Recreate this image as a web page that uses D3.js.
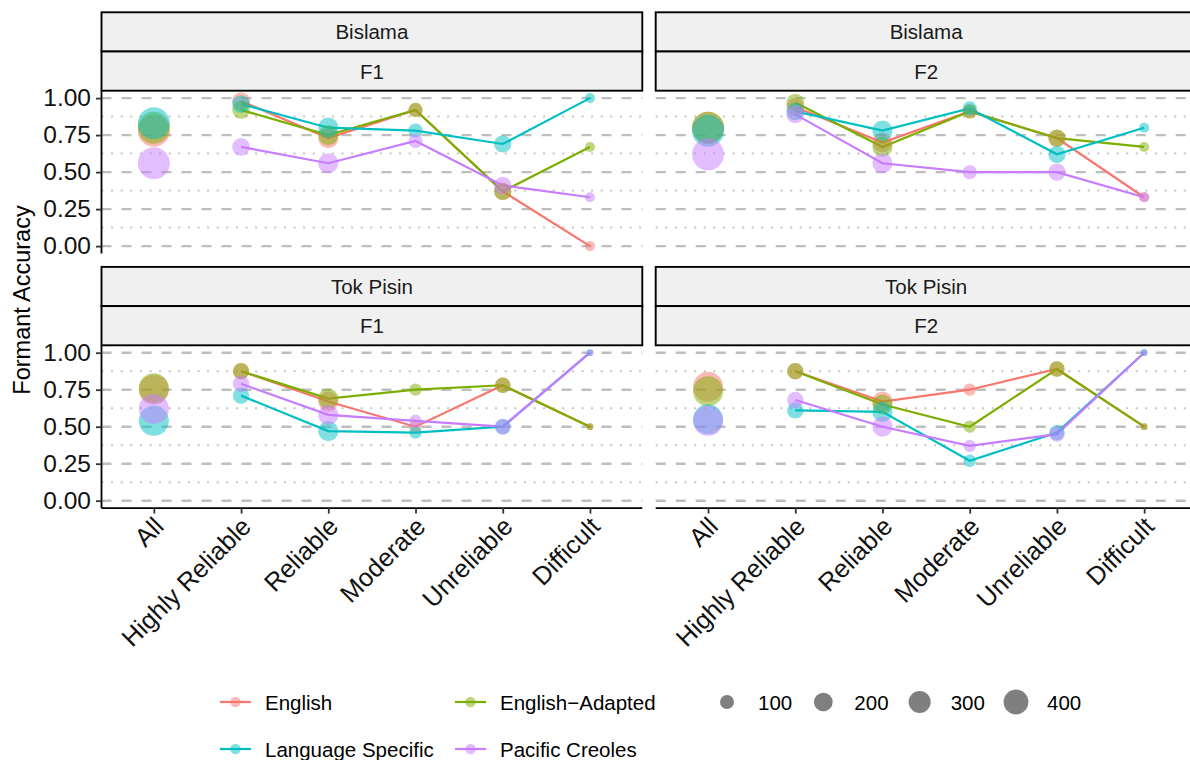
<!DOCTYPE html>
<html>
<head>
<meta charset="utf-8">
<script src="https://cdn.jsdelivr.net/npm/d3@7"></script>
<style>
  html, body { margin: 0; padding: 0; background: #ffffff; }
  svg { display: block; font-family: "Liberation Sans", Arial, sans-serif; }
</style>
</head>
<body>
<svg id="chart" width="1190" height="760"></svg>
<script>
// Categories of formant reliability, and the four reference methods
const categories = ["All", "Highly Reliable", "Reliable", "Moderate", "Unreliable", "Difficult"];
const methods = ["English", "English\u2212Adapted", "Language Specific", "Pacific Creoles"];
const methodColors = ["#F8766D", "#7CAE00", "#00BFC4", "#C77CFF"];
const languages = ["Bislama", "Tok Pisin"];
const formants = ["F1", "F2"];
const yTicks = [0, 0.25, 0.5, 0.75, 1];
const yMinorTicks = [0.125, 0.375, 0.625, 0.875];
const sizeBreaks = [100, 200, 300, 400];

// Number of tokens in each category (same tokens for F1 and F2)
const tokensBislama = [740, 175, 240, 105, 165, 55];
const tokensTokPisin = [633, 145, 240, 79, 126, 43];

// Formant accuracy per category, one array per panel and method
const bislamaF1English  = [0.78, 0.98, 0.73, 0.92, 0.37, 0.00];
const bislamaF1Adapted  = [0.80, 0.92, 0.75, 0.92, 0.37, 0.67];
const bislamaF1Specific = [0.83, 0.96, 0.80, 0.78, 0.69, 1.00];
const bislamaF1Creoles  = [0.56, 0.67, 0.56, 0.71, 0.41, 0.33];

const bislamaF2English  = [0.80, 0.94, 0.70, 0.91, 0.73, 0.33];
const bislamaF2Adapted  = [0.80, 0.97, 0.67, 0.91, 0.73, 0.67];
const bislamaF2Specific = [0.78, 0.91, 0.78, 0.93, 0.62, 0.80];
const bislamaF2Creoles  = [0.62, 0.89, 0.56, 0.50, 0.50, 0.33];

const tokPisinF1English  = [0.75, 0.875, 0.67, 0.50, 0.78, 0.50];
const tokPisinF1Adapted  = [0.76, 0.875, 0.69, 0.75, 0.78, 0.50];
const tokPisinF1Specific = [0.54, 0.71, 0.47, 0.46, 0.50, 1.00];
const tokPisinF1Creoles  = [0.62, 0.79, 0.58, 0.54, 0.50, 1.00];

const tokPisinF2English  = [0.77, 0.875, 0.67, 0.75, 0.89, 0.50];
const tokPisinF2Adapted  = [0.74, 0.875, 0.65, 0.50, 0.89, 0.50];
const tokPisinF2Specific = [0.55, 0.61, 0.60, 0.27, 0.46, 1.00];
const tokPisinF2Creoles  = [0.54, 0.68, 0.50, 0.37, 0.45, 1.00];

const panels = [
  { language: languages[0], formant: formants[0], row: 0, col: 0, tokens: tokensBislama,
    series: [bislamaF1English, bislamaF1Adapted, bislamaF1Specific, bislamaF1Creoles] },
  { language: languages[0], formant: formants[1], row: 0, col: 1, tokens: tokensBislama,
    series: [bislamaF2English, bislamaF2Adapted, bislamaF2Specific, bislamaF2Creoles] },
  { language: languages[1], formant: formants[0], row: 1, col: 0, tokens: tokensTokPisin,
    series: [tokPisinF1English, tokPisinF1Adapted, tokPisinF1Specific, tokPisinF1Creoles] },
  { language: languages[1], formant: formants[1], row: 1, col: 1, tokens: tokensTokPisin,
    series: [tokPisinF2English, tokPisinF2Adapted, tokPisinF2Specific, tokPisinF2Creoles] }
];

// Layout
const marginLeft = 101.5, marginTop = 12.3;
const panelW = 540.8, panelH = 162.8, gap = 13.4, stripH = 39.2;
const font = "'Liberation Sans', Arial, sans-serif";

const svg = d3.select("#chart");

// Point size: area-style mapping from token count to diameter
const allTokens = tokensBislama.concat(tokensTokPisin);
const [nMin, nMax] = d3.extent(allTokens);
const dMin = 6.7, dMax = 32;
const sizeT = d3.scaleLinear().domain([nMin, nMax]).range([0, 1]).clamp(true);
const radius = n => (dMin + (dMax - dMin) * Math.sqrt(sizeT(n))) / 2;

panels.forEach(p => {
  const x0 = marginLeft + p.col * (panelW + gap);
  const yStrip = marginTop + p.row * (2 * stripH + panelH + gap);
  const y0 = yStrip + 2 * stripH;

  const x = d3.scalePoint().domain(categories).range([x0, x0 + panelW]).padding(0.6);
  const y = d3.scaleLinear().domain([-0.05, 1.05]).range([y0 + panelH, y0]);

  const g = svg.append("g");

  // Grid lines
  g.selectAll(".minor").data(yMinorTicks).join("line")
    .attr("x1", x0).attr("x2", x0 + panelW)
    .attr("y1", d => y(d)).attr("y2", d => y(d))
    .attr("stroke", "#C4C4C4").attr("stroke-width", 2)
    .attr("stroke-dasharray", "2,7.6");
  g.selectAll(".major").data(yTicks).join("line")
    .attr("x1", x0).attr("x2", x0 + panelW)
    .attr("y1", d => y(d)).attr("y2", d => y(d))
    .attr("stroke", "#BEBEBE").attr("stroke-width", 2.4)
    .attr("stroke-dasharray", "10,10");

  // Strips
  [p.language, p.formant].forEach((label, i) => {
    const sy = yStrip + i * stripH;
    svg.append("rect")
      .attr("x", x0).attr("y", sy).attr("width", panelW).attr("height", stripH)
      .attr("fill", "#F0F0F0").attr("stroke", "#000").attr("stroke-width", 1.9);
    svg.append("text")
      .attr("x", x0 + panelW / 2).attr("y", sy + stripH / 2)
      .attr("text-anchor", "middle").attr("dominant-baseline", "central")
      .attr("font-family", font).attr("font-size", 20.5).attr("fill", "#1A1A1A")
      .text(label);
  });

  // Lines (the "All" category stands apart)
  const line = d3.line().x((d, i) => x(categories[i + 1])).y(d => y(d));
  p.series.forEach((vals, m) => {
    g.append("path")
      .datum(vals.slice(1))
      .attr("d", line)
      .attr("fill", "none")
      .attr("stroke", methodColors[m])
      .attr("stroke-width", 2.2);
  });

  // Points sized by token count
  p.series.forEach((vals, m) => {
    g.selectAll(null).data(vals).join("circle")
      .attr("cx", (d, i) => x(categories[i]))
      .attr("cy", d => y(d))
      .attr("r", (d, i) => radius(p.tokens[i]))
      .attr("fill", methodColors[m])
      .attr("fill-opacity", 0.5);
  });

  // Y axis on the left column
  if (p.col === 0) {
    const ya = svg.append("g").attr("transform", `translate(${x0},0)`)
      .call(d3.axisLeft(y).tickValues(yTicks).tickFormat(d3.format(".2f")).tickSize(5.5).tickPadding(5));
    ya.select(".domain").attr("stroke", "#000").attr("stroke-width", 1.8)
      .attr("d", `M0,${y0 + panelH}V${y0}`);
    ya.selectAll(".tick line").attr("stroke", "#333").attr("stroke-width", 1.8);
    ya.selectAll(".tick text").attr("font-family", font).attr("font-size", 24.5).attr("fill", "#111");
  }

  // X axis on the bottom row
  if (p.row === 1) {
    const xa = svg.append("g").attr("transform", `translate(0,${y0 + panelH})`)
      .call(d3.axisBottom(x).tickSize(5.5).tickSizeOuter(0));
    xa.select(".domain").attr("stroke", "#000").attr("stroke-width", 1.8)
      .attr("d", `M${x0},0H${x0 + panelW}`);
    xa.selectAll(".tick line").attr("stroke", "#333").attr("stroke-width", 1.8);
    xa.selectAll(".tick text")
      .attr("font-family", font).attr("font-size", 25.5).attr("fill", "#111")
      .attr("text-anchor", "end")
      .attr("y", 0).attr("dy", "0.72em")
      .attr("transform", "translate(-2,7) rotate(-45)");
  }
});

// Y axis title
svg.append("text")
  .attr("transform", "translate(22,300) rotate(-90)")
  .attr("text-anchor", "middle").attr("dominant-baseline", "central")
  .attr("font-family", font).attr("font-size", 23.5).attr("fill", "#000")
  .text("Formant Accuracy");

// Colour legend
const legendRows = [702, 749];
const legendCols = [220, 455];
methods.forEach((name, i) => {
  const lx = legendCols[i % 2], ly = legendRows[Math.floor(i / 2)];
  const lg = svg.append("g");
  lg.append("line").attr("x1", lx).attr("x2", lx + 31).attr("y1", ly).attr("y2", ly)
    .attr("stroke", methodColors[i]).attr("stroke-width", 2.2);
  lg.append("circle").attr("cx", lx + 15.5).attr("cy", ly).attr("r", 5.2)
    .attr("fill", methodColors[i]).attr("fill-opacity", 0.5);
  lg.append("text").attr("x", lx + 45).attr("y", ly)
    .attr("dominant-baseline", "central")
    .attr("font-family", font).attr("font-size", 20.5).attr("fill", "#000")
    .text(name);
});

// Size legend
const sizeX = d3.scalePoint().domain(sizeBreaks).range([727, 1016]);
sizeBreaks.forEach(b => {
  svg.append("circle").attr("cx", sizeX(b)).attr("cy", 702).attr("r", radius(b))
    .attr("fill", "#000").attr("fill-opacity", 0.5);
  svg.append("text").attr("x", sizeX(b) + 31).attr("y", 702)
    .attr("dominant-baseline", "central")
    .attr("font-family", font).attr("font-size", 20.5).attr("fill", "#000")
    .text(b);
});
</script>
</body>
</html>
